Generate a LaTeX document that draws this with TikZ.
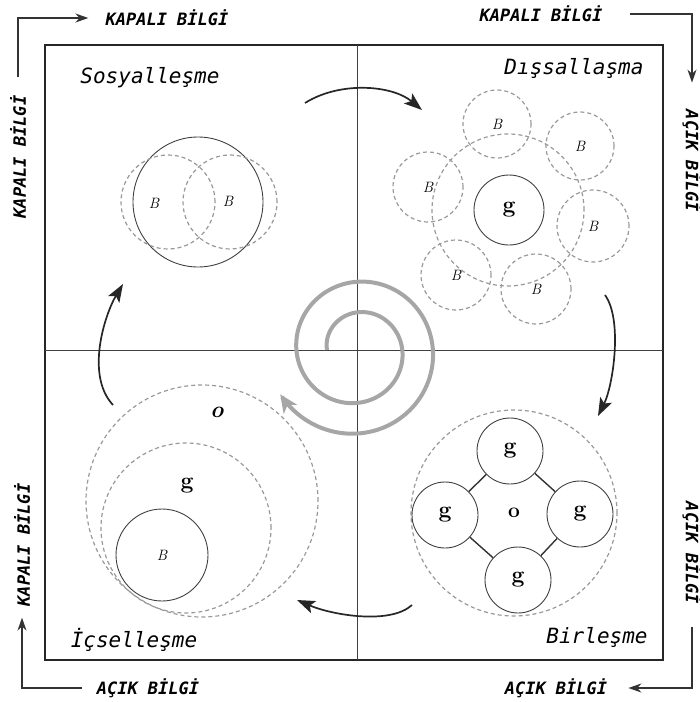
\documentclass[tikz,border=0pt]{standalone}
\usepackage{fontspec}
\usetikzlibrary{arrows.meta}
\newfontfamily\termfont{DejaVu Sans Mono}

\begin{document}
\begin{tikzpicture}[x=1pt, y=-1pt,
  frame/.style={draw=black!85, line width=1.2pt},
  quadline/.style={draw=black!75, line width=0.8pt},
  quadtitle/.style={font=\termfont\itshape\fontsize{21}{23}\selectfont},
  flowlabel/.style={font=\termfont\bfseries\itshape\fontsize{17}{19}\selectfont, inner sep=1pt},
  flow/.style={draw=black!80, line width=1.8pt, -{Stealth[length=13pt,width=9pt]}},
  cyclearrow/.style={draw=black!85, line width=1.7pt, -{Stealth[length=18pt,width=13pt,inset=4pt]}},
  spiral/.style={draw=gray!70, line width=4pt, -{Stealth[length=18pt,width=16pt,inset=5pt]}},
  solidcirc/.style={circle, draw=black!75, line width=0.9pt, inner sep=0pt},
  dashcirc/.style={circle, draw=gray!80, line width=1.2pt, dash pattern=on 4pt off 3pt, inner sep=0pt},
  link/.style={draw=black!80, line width=1.4pt},
  bletter/.style={font=\itshape\fontsize{15}{17}\selectfont},
  gletter/.style={font=\bfseries\fontsize{23}{25}\selectfont},
  oletter/.style={font=\bfseries\itshape\fontsize{23}{25}\selectfont},
  ]
 \useasboundingbox (0,0) rectangle (700,702);

 % frame and quadrants
 \draw[frame] (45,45) rectangle (663,660);
 \draw[quadline] (357,45) -- (357,660);
 \draw[quadline] (45,350) -- (663,350);

 % quadrant titles
 \node[quadtitle] (sos) at (150,78) {Sosyalleşme};
 \node[quadtitle] (dis) at (574,68) {Dışsallaşma};
 \node[quadtitle] (ic) at (134,640) {İçselleşme};
 \node[quadtitle] (bir) at (597,637) {Birleşme};

 % outer labels
 \node[flowlabel] (kh1) at (167,18) {KAPALI BİLGİ};
 \node[flowlabel] (kh2) at (541,14) {KAPALI BİLGİ};
 \node[flowlabel, rotate=-90] (av1) at (692,161) {AÇIK BİLGİ};
 \node[flowlabel, rotate=-90] (av2) at (692,553) {AÇIK BİLGİ};
 \node[flowlabel] (ah2) at (556,688) {AÇIK BİLGİ};
 \node[flowlabel] (ah1) at (148,688) {AÇIK BİLGİ};
 \node[flowlabel, rotate=90] (kv2) at (22,545) {KAPALI BİLGİ};
 \node[flowlabel, rotate=90] (kv1) at (18,157) {KAPALI BİLGİ};

 \draw[flow, shorten <=17pt, shorten >=16pt] (kv1) |- (kh1);
 \draw[flow, shorten <=26pt, shorten >=26pt] (kh2) -| (av1);
 \draw[flow, shorten <=22pt, shorten >=20pt] (av2) |- (ah2);
 \draw[flow, shorten <=14pt, shorten >=10pt] (ah1) -| (kv2);

 % Sosyallesme
 \node[solidcirc, minimum size=130pt] (s0) at (198,202) {};
 \node[dashcirc, minimum size=94pt] (s1) at (168,202) {};
 \node[dashcirc, minimum size=94pt] (s2) at (230,202) {};
 \node[bletter] (s1b) at (154,203) {B};
 \node[bletter] (s2b) at (228,201) {B};

 % Dissallasma
 \node[dashcirc, minimum size=152pt] (d0) at (508,210) {};
 \node[solidcirc, gletter, minimum size=70pt] (dg) at (509,210) {g};
 \node[dashcirc, bletter, minimum size=68pt] (d1) at (497,124) {B};
 \node[dashcirc, bletter, minimum size=68pt] (d2) at (580,146) {B};
 \node[dashcirc, bletter, minimum size=70pt] (d3) at (428,187) {B};
 \node[dashcirc, bletter, minimum size=72pt] (d4) at (593,226) {B};
 \node[dashcirc, bletter, minimum size=70pt] (d5) at (456,275) {B};
 \node[dashcirc, bletter, minimum size=70pt] (d6) at (536,289) {B};

 % Icsellesme
 \node[dashcirc, minimum size=232pt] (i0) at (202,501) {};
 \node[dashcirc, minimum size=170pt] (i1) at (186,528) {};
 \node[solidcirc, bletter, minimum size=92pt] (i2) at (162,555) {B};
 \node[oletter] (io) at (217,412) {o};
 \node[gletter] (ig) at (187,486) {g};

 % Birlesme
 \node[dashcirc, font=\bfseries\fontsize{21}{23}\selectfont, minimum size=206pt] (b0) at (514,513) {o};
 \node[solidcirc, gletter, minimum size=66pt] (bt) at (510,451) {g};
 \node[solidcirc, gletter, minimum size=66pt] (bl) at (445,515) {g};
 \node[solidcirc, gletter, minimum size=66pt] (br) at (580,514) {g};
 \node[solidcirc, gletter, minimum size=66pt] (bb) at (518,580) {g};
 \draw[link] (bt) -- (bl);
 \draw[link] (bt) -- (br);
 \draw[link] (br) -- (bb);
 \draw[link] (bl) -- (bb);

 % cycle arrows
 \coordinate (c1s) at (305,103);
 \coordinate (c1e) at (422,110);
 \coordinate (c2s) at (605,295);
 \coordinate (c2e) at (598,416);
 \coordinate (c3s) at (412,605);
 \coordinate (c3e) at (297,600);
 \coordinate (c4s) at (113,405);
 \coordinate (c4e) at (123,284);
 \draw[cyclearrow] (c1s) .. controls +(35,-22) and +(-30,-25) .. (c1e);
 \draw[cyclearrow] (c2s) .. controls +(18,25) and +(15,-30) .. (c2e);
 \draw[cyclearrow] (c3s) .. controls +(-22,20) and +(35,15) .. (c3e);
 \draw[cyclearrow] (c4s) .. controls +(-28,-30) and +(-18,30) .. (c4e);

 % spiral
 \draw[spiral] plot[domain=180:-510, samples=220, smooth]
   ({357+(30+0.085*(180-\x))*cos(\x)}, {350-(30+0.085*(180-\x))*sin(\x)});
\end{tikzpicture}
\end{document}
